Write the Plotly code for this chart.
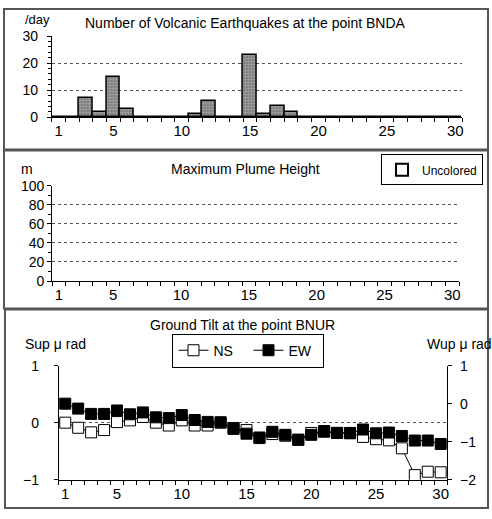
import plotly.graph_objects as go

W, H = 492, 519

# ---------------- data ----------------
days = list(range(1, 31))
quake_counts = [0, 0, 7, 2, 15, 3, 0, 0, 0, 0, 1, 6, 0, 0, 23, 1, 4, 2,
                0, 0, 0, 0, 0, 0, 0, 0, 0, 0, 0, 0]
plume_heights = [None] * 30
tilt_ns = [0.0, -0.09, -0.17, -0.13, 0.01, 0.04, 0.10, 0.0, -0.05, 0.04,
           -0.05, -0.05, 0.0, -0.11, -0.13, -0.27, -0.20, -0.23, -0.30, -0.18,
           -0.16, -0.18, -0.18, -0.25, -0.29, -0.31, -0.45, -0.92, -0.86, -0.87]
tilt_ew = [0.0, -0.13, -0.27, -0.27, -0.18, -0.28, -0.23, -0.36, -0.38, -0.30,
           -0.43, -0.48, -0.49, -0.64, -0.79, -0.89, -0.74, -0.82, -0.95, -0.82,
           -0.72, -0.77, -0.78, -0.68, -0.78, -0.76, -0.85, -0.97, -0.97, -1.06]
x_tickvals = [1, 5, 10, 15, 20, 25, 30]
x_ticktext = ["1", "5", "10", "15", "20", "25", "30"]

FONT = "Liberation Sans, Arial, sans-serif"


def px_x(p):
    return p / W


def px_y(p):
    return 1 - p / H


fig = go.Figure()

# Panel 1: earthquakes
fig.add_trace(go.Bar(
    x=days, y=quake_counts, xaxis="x", yaxis="y", width=1,
    marker=dict(color="#707070", line=dict(color="black", width=1.5),
                pattern=dict(shape=".", fgcolor="#dddddd", size=3, solidity=0.5)),
    showlegend=False, hoverinfo="x+y"))

# Panel 2: plume (no data, legend only)
fig.add_trace(go.Bar(
    x=days, y=plume_heights, xaxis="x2", yaxis="y2", name="Uncolored",
    marker=dict(color="white", line=dict(color="black", width=2)),
    legend="legend2"))

# Panel 3: tilt
fig.add_trace(go.Scatter(
    x=days, y=tilt_ns, xaxis="x3", yaxis="y3", name="NS", mode="lines+markers",
    line=dict(color="black", width=1),
    marker=dict(symbol="square", size=11, color="white", line=dict(color="black", width=1))))
fig.add_trace(go.Scatter(
    x=days, y=tilt_ew, xaxis="x3", yaxis="y4", name="EW", mode="lines+markers",
    line=dict(color="black", width=1),
    marker=dict(symbol="square", size=11, color="black", line=dict(color="black", width=1))))


def xaxis(domain, anchor):
    return dict(domain=domain, anchor=anchor, range=[0.5, 30.5],
                tickvals=x_tickvals, ticktext=x_ticktext, ticks="", ticklen=0,
                showgrid=False, zeroline=False, showline=True, linecolor="black",
                linewidth=1, tickfont=dict(size=15, color="black", family=FONT),
                minor=dict(tickvals=[i + 0.5 for i in range(31)], ticks="outside",
                           ticklen=4, tickcolor="black", showgrid=False),
                fixedrange=True)


def yaxis(domain, anchor, rng, dtick, minor_dtick=None, standoff=0, **kw):
    d = dict(domain=domain, anchor=anchor, range=rng, dtick=dtick,
             ticks="outside", ticklen=4, tickcolor="black",
             showline=True, linecolor="black", linewidth=1,
             showgrid=True, gridcolor="#555", griddash="dot", gridwidth=1,
             zeroline=False, tickfont=dict(size=14, color="black", family=FONT),
             ticklabelstandoff=standoff, fixedrange=True)
    if minor_dtick:
        d["minor"] = dict(dtick=minor_dtick, ticks="outside", ticklen=3,
                          tickcolor="black", showgrid=False)
    d.update(kw)
    return d


p1x = [px_x(52), px_x(464)]
p1y = [px_y(112.7), px_y(29)]
p2x = [px_x(52.3), px_x(461)]
p2y = [px_y(281.7), px_y(183.3)]
p3x = [px_x(59), px_x(449)]
p3y = [px_y(486.7), px_y(369)]

fig.update_layout(
    width=W, height=H, margin=dict(l=0, r=0, t=0, b=0),
    paper_bgcolor="white", plot_bgcolor="white",
    font=dict(family=FONT, color="black", size=14),
    barmode="overlay", bargap=0,
    xaxis=xaxis(p1x, "y"),
    yaxis=yaxis(p1y, "x", [0, 30], 10, 2, standoff=6),
    xaxis2=xaxis(p2x, "y2"),
    yaxis2=yaxis(p2y, "x2", [0, 100], 20, 10, standoff=0),
    xaxis3=xaxis(p3x, "y3"),
    yaxis3=yaxis(p3y, "x3", [-1, 1], 1, standoff=12),
    yaxis4=yaxis(p3y, "x3", [-2, 1], 1, standoff=5, overlaying="y3", side="right",
                 showgrid=False),
    legend=dict(orientation="h", x=px_x(249.5), xanchor="center",
                y=px_y(336), yanchor="top", bordercolor="black", borderwidth=1,
                bgcolor="white", font=dict(size=14, family=FONT),
                itemwidth=30, entrywidth=30, tracegroupgap=0),
    legend2=dict(x=px_x(485), xanchor="right", y=px_y(151), yanchor="top",
                 bordercolor="black", borderwidth=1, bgcolor="white",
                 font=dict(size=12, family=FONT), itemwidth=30),
)

# Titles & axis unit labels
ann = [
    ("Number of Volcanic Earthquakes at the point BNDA", 247, 15, 14),
    ("/day", 38, 12, 13),
    ("Maximum Plume Height", 247, 166, 14),
    ("m", 27, 166, 14),
    ("Ground Tilt at the point BNUR", 243, 327, 14),
    ("Sup μ rad", 56, 347, 14),
    ("Wup μ rad", 461, 347, 14),
]
for text, x, y, fs in ann:
    fig.add_annotation(text=text, xref="paper", yref="paper", x=px_x(x), y=px_y(y),
                       xanchor="center", yanchor="middle", showarrow=False,
                       font=dict(size=fs, family=FONT, color="black"))

# Panel frames
for (x0, y0, x1, y1) in [(4, 1, 490, 146), (4, 147, 490, 310), (5, 311, 490, 516)]:
    fig.add_shape(type="rect", xref="paper", yref="paper",
                  x0=px_x(x0), x1=px_x(x1), y0=px_y(y1), y1=px_y(y0),
                  line=dict(color="#555", width=2), layer="below")

fig.write_html("out.html", config={"displayModeBar": False},
               post_script="document.body.style.margin='0';")
